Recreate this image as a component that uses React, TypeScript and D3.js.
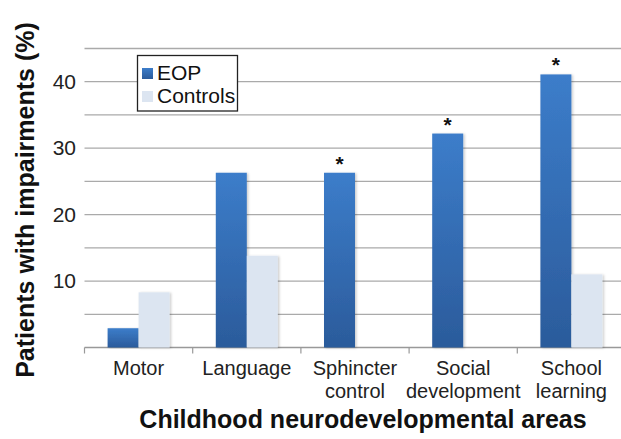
import React from "react";
import * as d3 from "d3";

const categories = [["Motor"], ["Language"], ["Sphincter", "control"], ["Social", "development"], ["School", "learning"]];
const eopValues = [2.9, 26.3, 26.3, 32.2, 41.1];
const controlValues = [8.3, 13.8, 0, 0, 11.0];
const significant = [false, false, true, true, true];
const yTickLabels = [10, 20, 30, 40];
const gridValues = [5, 10, 15, 20, 25, 30, 35, 40, 45];
const seriesNames = ["EOP", "Controls"];

const W = 621, H = 439;
const FONT = "'Liberation Sans', Arial, sans-serif";

export default function App() {
  const x = d3.scaleBand<number>().domain(d3.range(5)).range([84.5, 625.5]);
  const y = d3.scaleLinear().domain([0, 45]).range([347.5, 48.5]);
  const bw = 31;
  return (
    <svg width={W} height={H} style={{ position: "absolute", left: 0, top: 0, background: "#fff" }}>
      <defs>
        <linearGradient id="eopGrad" x1="0" y1="0" x2="0" y2="1">
          <stop offset="0" stopColor="#3c7dca" />
          <stop offset="1" stopColor="#2b5b9b" />
        </linearGradient>
        <filter id="sh" x="-20%" y="-5%" width="140%" height="110%">
          <feDropShadow dx="1.5" dy="0.5" stdDeviation="1" floodColor="#000" floodOpacity="0.2" />
        </filter>
      </defs>
      {gridValues.map((v) => (
        <line key={v} x1={84.5} x2={W} y1={y(v)} y2={y(v)} stroke="#aaaaaa" strokeWidth={1.3} />
      ))}
      <line x1={84.5} x2={W} y1={y(0)} y2={y(0)} stroke="#999" strokeWidth={1.3} />
      {d3.range(6).map((i) => {
        const xx = i < 5 ? x(i)! : 625.5;
        return <line key={i} x1={xx} x2={xx} y1={y(0)} y2={y(0) + 6} stroke="#999" strokeWidth={1.2} />;
      })}
      {yTickLabels.map((v) => (
        <text key={v} x={76} y={y(v) + 7} textAnchor="end" fontFamily={FONT} fontSize={21} fill="#222">{v}</text>
      ))}
      {categories.map((c, i) => {
        const cx = x(i)! + x.bandwidth() / 2;
        const ey = y(eopValues[i]);
        const cy = y(controlValues[i]);
        return (
          <g key={i}>
            <rect x={cx - bw} y={ey} width={bw} height={y(0) - ey} fill="url(#eopGrad)" filter="url(#sh)" />
            {controlValues[i] > 0 && (
              <rect x={cx} y={cy} width={bw} height={y(0) - cy} fill="#dce5f1" filter="url(#sh)" />
            )}
            {significant[i] && (
              <text x={cx - bw / 2} y={ey - 2} textAnchor="middle" fontFamily={FONT} fontSize={21} fontWeight="bold" fill="#111">*</text>
            )}
            {c.map((line, j) => (
              <text key={j} x={cx} y={375 + j * 22.5} textAnchor="middle" fontFamily={FONT} fontSize={20} fill="#222">{line}</text>
            ))}
          </g>
        );
      })}
      <g>
        <rect x={137.5} y={55.5} width={100} height={55.5} fill="#fff" stroke="#222" strokeWidth={1.3} />
        <rect x={142} y={68} width={11} height={11} fill="url(#eopGrad)" />
        <rect x={142} y={91} width={11} height={11} fill="#dce5f1" />
        <text x={157} y={80} fontFamily={FONT} fontSize={21} fill="#111">{seriesNames[0]}</text>
        <text x={157} y={102.5} fontFamily={FONT} fontSize={21} fill="#111">{seriesNames[1]}</text>
      </g>
      <text x={363} y={428} textAnchor="middle" fontFamily={FONT} fontSize={25} fontWeight="bold" fill="#111">Childhood neurodevelopmental areas</text>
      <text transform={`translate(34,200) rotate(-90)`} textAnchor="middle" fontFamily={FONT} fontSize={25} fontWeight="bold" fill="#111">Patients with impairments (%)</text>
    </svg>
  );
}
